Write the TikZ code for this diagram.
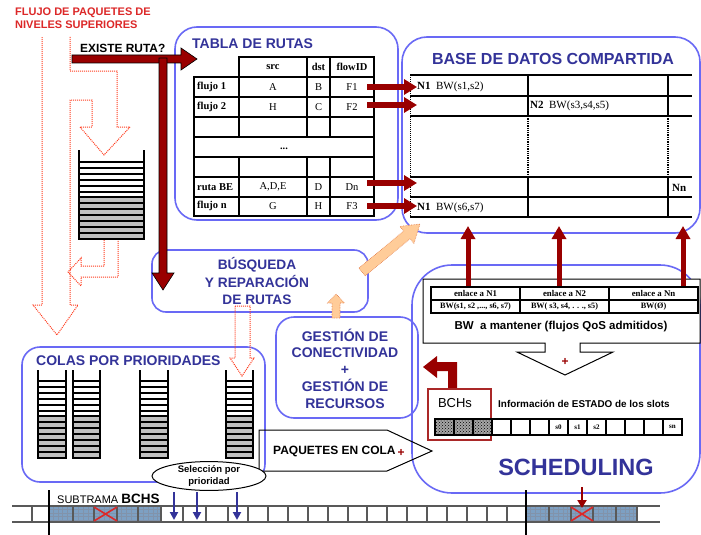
\documentclass[tikz,border=0pt]{standalone}
\usepackage{fontspec}
\setmainfont{Liberation Sans}
\newfontfamily\tms{Liberation Serif}
\usetikzlibrary{arrows.meta,patterns,shapes.geometric}
\definecolor{dred}{RGB}{153,0,0}
\definecolor{boxblue}{RGB}{105,105,245}
\definecolor{tblue}{RGB}{51,51,153}
\definecolor{dotred}{RGB}{255,60,30}
\definecolor{peach}{RGB}{255,204,153}
\definecolor{peachdk}{RGB}{225,120,70}
\definecolor{fred}{RGB}{220,40,40}
\definecolor{bchblue}{RGB}{125,160,195}
\definecolor{bchline}{RGB}{45,75,115}
\definecolor{cellgray}{RGB}{192,192,192}
\definecolor{bchsred}{RGB}{170,40,40}
\newcommand\fsz[2]{\fontsize{#1}{#2}\selectfont}
\newcommand\prioqueue[4]{%
  \fill[cellgray] (#1,#4+6*5.9) rectangle (#2,#4+13*5.9);
  \foreach \i in {0,...,13} {\draw[line width=2pt] (#1,#4+\i*5.9) -- (#2,#4+\i*5.9);}
  \draw[line width=1.8pt] (#1,#3) -- (#1,#4+13*5.9+1);
  \draw[line width=1.8pt] (#2,#3) -- (#2,#4+13*5.9+1);
}
\begin{document}
\begin{tikzpicture}[x=1pt,y=-1pt,
  rbox/.style={draw=boxblue,line width=1.6pt},
  ttl/.style={text=tblue,font=\bfseries\fsz{14}{17},inner sep=0pt},
  tl/.style={line width=1.6pt},
  tcell/.style={font=\tms\fsz{10.5}{10.5},inner sep=0pt},
  tbold/.style={font=\tms\bfseries\fsz{10.5}{10.5},inner sep=0pt},
  redarrow/.style={draw=dred,line width=6pt,-{Triangle[length=13pt,width=15pt]}},
  uparrow/.style={draw=dred,line width=5pt,-{Triangle[length=13pt,width=14pt]}},
  dotarrow/.style={draw=dotred,line width=1pt,densely dotted},
  peacharrow/.style={fill=peach,draw=peachdk,line width=0.6pt,densely dotted},
  bigred/.style={fill=dred,draw=black,line width=0.6pt},
  bluedown/.style={draw=tblue,line width=2pt,-{Triangle[length=8pt,width=8pt]}},
  strip/.style={draw=black!65,line width=1.1pt},
  lbl/.style={inner sep=0pt},
]
\useasboundingbox (0,0) rectangle (701,535);
\fill[white] (0,0) rectangle (701,535);

% ---------- top-left texts ----------
\node[lbl,anchor=west,text=fred,font=\bfseries\fsz{11}{13},align=left] (flujo) at (15,18.5) {FLUJO DE PAQUETES DE\\NIVELES SUPERIORES};
\node[lbl,anchor=west,font=\bfseries\fsz{11.9}{13}] (existe) at (80,48) {EXISTE RUTA?};

% ---------- dotted open arrows (left) ----------
\draw[dotarrow] (70,37) -- (70,71) -- (117,71) -- (117,127) -- (130,127) -- (104,155) -- (80,127) -- (92,127) -- (92,100) -- (70,100) -- (70,305) -- (78,305) -- (57,335) -- (33,305) -- (42,305) -- (42,37);
\draw[dotarrow] (104,238) -- (104,266) -- (81,266) -- (81,258) -- (68,272) -- (81,286) -- (81,277) -- (118,277) -- (118,238);

% top-left queue
\prioqueue{79}{144}{150}{162}

% ---------- boxes ----------
\draw[rbox,rounded corners=22pt] (175,27) rectangle (398,220);
\draw[rbox,rounded corners=25pt] (402,37) rectangle (700,233);
\draw[rbox,rounded corners=40pt] (412,265) rectangle (700,493);
\draw[rbox,rounded corners=18pt] (276,317) rectangle (418,418);
\draw[rbox,rounded corners=14pt] (152,250) rectangle (368,312);
\draw[rbox,rounded corners=18pt] (22,347) rectangle (265,482);

% ---------- TABLA DE RUTAS ----------
\node[ttl,anchor=west] (tabtitle) at (192,44) {TABLA DE RUTAS};
\draw[tl] (239,57) rectangle (374,77);
\draw[tl] (307,57) -- (307,77) (330,57) -- (330,77);
\draw[tl] (194,77) rectangle (374,216);
\foreach \y in {97,117,137,157,177,197} \draw[tl] (194,\y) -- (374,\y);
\foreach \x in {239,307,330} {\draw[tl] (\x,77) -- (\x,137); \draw[tl] (\x,157) -- (\x,216);}
\node[tbold] (hsrc) at (273,67) {src};
\node[tbold] (hdst) at (318.5,67) {dst};
\node[tbold] (hflow) at (352,67) {flowID};
\node[tbold,anchor=west] (r1) at (197,87) {flujo 1};
\node[tbold,anchor=west] (r2) at (197,107) {flujo 2};
\node[tbold,anchor=west] (r3) at (197,187) {ruta BE};
\node[tbold,anchor=west] (r4) at (197,206) {flujo n};
\node[tcell] (s1) at (273,87) {A};
\node[tcell] (s2) at (273,107) {H};
\node[tcell] (s3) at (273,187) {A,D,E};
\node[tcell] (s4) at (273,206) {G};
\node[tcell] (d1) at (318.5,87) {B};
\node[tcell] (d2) at (318.5,107) {C};
\node[tcell] (d3) at (318.5,187) {D};
\node[tcell] (d4) at (318.5,206) {H};
\node[tcell] (f1) at (352,87) {F1};
\node[tcell] (f2) at (352,107) {F2};
\node[tcell] (f3) at (352,187) {Dn};
\node[tcell] (f4) at (352,206) {F3};
\node[tbold] (tdots) at (284,149) {...};

% ---------- BASE DE DATOS ----------
\node[ttl,font=\bfseries\fsz{16}{18}] (basetitle) at (553,59) {BASE DE DATOS COMPARTIDA};
\foreach \y in {75,96,116,177,197,217} \draw[tl] (410,\y) -- (692,\y);
\foreach \x in {528,668} {\draw[tl] (\x,75) -- (\x,116); \draw[tl] (\x,177) -- (\x,217); \draw[line width=1.3pt,densely dotted] (\x,116) -- (\x,177);}
\draw[line width=1pt,densely dotted] (410,75) -- (410,217);
\node[lbl,anchor=west,font=\tms\fsz{11}{11}] (bn1) at (417,87) {\textbf{N1}\ \ BW(s1,s2)};
\node[lbl,anchor=west,font=\tms\fsz{11}{11}] (bn2) at (530,106) {\textbf{N2}\ \ BW(s3,s4,s5)};
\node[lbl,anchor=west,font=\tms\fsz{11}{11}] (bnn) at (672,188) {\textbf{Nn}};
\node[lbl,anchor=west,font=\tms\fsz{11}{11}] (bn3) at (417,208) {\textbf{N1}\ \ BW(s6,s7)};

% arrows table -> base
\coordinate (a1) at (367,87);  \coordinate (t1) at (417,87);
\coordinate (a2) at (367,105); \coordinate (t2) at (417,105);
\coordinate (a3) at (367,183); \coordinate (t3) at (417,183);
\coordinate (a4) at (367,206); \coordinate (t4) at (417,206);
\foreach \k in {1,2,3,4} \draw[redarrow] (a\k) -- (t\k);

% ---------- big dark red arrows ----------
\filldraw[bigred] (72,55) -- (181,55) -- (181,48) -- (197,59) -- (181,70) -- (181,63) -- (72,63) -- cycle;
\filldraw[bigred] (159,58) -- (167,58) -- (167,273) -- (174,273) -- (163,290) -- (152,273) -- (159,273) -- cycle;

% ---------- BUSQUEDA ----------
\node[ttl,align=center,font=\bfseries\fsz{13.7}{17.5}] (busq) at (257,281) {BÚSQUEDA\\Y REPARACIÓN\\DE RUTAS};

% ---------- GESTION ----------
\node[ttl,align=center,font=\bfseries\fsz{14}{16.8}] (gest) at (345,368.5) {GESTIÓN DE\\CONECTIVIDAD\\+\\GESTIÓN DE\\RECURSOS};

% peach arrows
\filldraw[peacharrow] (365.2,275.9) -- (410.1,238.7) -- (413.9,243.3) -- (420,224) -- (399.9,226.4) -- (403.7,231.0) -- (358.8,268.2) -- cycle;
\filldraw[peacharrow] (332,318) -- (332,303) -- (327.5,303) -- (336,294) -- (344.5,303) -- (340,303) -- (340,318) -- cycle;

% dotted arrow busqueda -> queue
\draw[dotarrow] (235,306) -- (250,306) -- (250,358) -- (254,358) -- (242,376) -- (230,358) -- (235,358) -- cycle;

% ---------- COLAS ----------
\node[ttl,anchor=west] (colas) at (36,361) {COLAS POR PRIORIDADES};
\prioqueue{38}{66}{370}{381}
\prioqueue{73}{100}{370}{381}
\prioqueue{140}{168}{370}{381}
\prioqueue{226}{253}{370}{381}

% ---------- SCHEDULING ----------
\filldraw[fill=white,draw=black,line width=1pt] (423,279) -- (700,279) -- (700,343) -- (580,343) -- (580,352) -- (613,352) -- (565,375) -- (517,352) -- (545,352) -- (545,343) -- (423,343) -- cycle;
\draw[line width=1.2pt] (431,287) rectangle (698,313);
\draw[line width=1.2pt] (431,300) -- (698,300) (520,287) -- (520,313) (609,287) -- (609,313);
\node[tbold,font=\tms\bfseries\fsz{8.8}{9}] (e1) at (475.5,293.5) {enlace a N1};
\node[tbold,font=\tms\bfseries\fsz{8.8}{9}] (e2) at (564.5,293.5) {enlace a N2};
\node[tbold,font=\tms\bfseries\fsz{8.8}{9}] (e3) at (653.5,293.5) {enlace a Nn};
\node[tbold,font=\tms\bfseries\fsz{8.2}{9}] (w1) at (475.5,306.5) {BW(s1, s2 ,..., s6, s7)};
\node[tbold,font=\tms\bfseries\fsz{8.2}{9}] (w2) at (564.5,306.5) {BW( s3, s4, . . ., s5)};
\node[tbold,font=\tms\bfseries\fsz{8.2}{9}] (w3) at (653.5,306.5) {BW(Ø)};
\node[lbl,font=\bfseries\fsz{11.5}{12}] (bwm) at (561,327) {BW\ \ a mantener (flujos QoS admitidos)};
\node[lbl,text=dred,font=\bfseries\fsz{12}{12}] (plus1) at (565,362) {+};

\coordinate (u1a) at (468,286); \coordinate (u1b) at (468,226);
\coordinate (u2a) at (559,286); \coordinate (u2b) at (559,226);
\coordinate (u3a) at (683,286); \coordinate (u3b) at (683,226);
\foreach \k in {1,2,3} \draw[uparrow] (u\k a) -- (u\k b);

% bent arrow
\fill[dred] (448,388) -- (457,388) -- (457,362) -- (437,362) -- (437,356) -- (423,367) -- (437,378) -- (437,371) -- (448,371) -- cycle;

% BCHs box and slots
\draw[draw=bchsred,line width=1.2pt] (428,389) rectangle (491,440);
\node[lbl,font=\fsz{13}{13}] (bchs) at (455,403) {BCHs};
\node[lbl,anchor=west,font=\bfseries\fsz{9.9}{10}] (info) at (498,404) {Información de ESTADO de los slots};
\fill[black!35] (435,419) rectangle (492,435);
\fill[pattern=crosshatch dots,pattern color=black] (435,419) rectangle (492,435);
\draw[line width=1.2pt] (435,419) rectangle (682,435);
\foreach \k in {1,...,12} \draw[line width=1.2pt] (435+19*\k,419) -- (435+19*\k,435);
\node[tbold,font=\tms\bfseries\fsz{7}{7}] (sl0) at (558.5,427) {s0};
\node[tbold,font=\tms\bfseries\fsz{7}{7}] (sl1) at (577.5,427) {s1};
\node[tbold,font=\tms\bfseries\fsz{7}{7}] (sl2) at (596.5,427) {s2};
\node[tbold,font=\tms\bfseries\fsz{7}{7}] (sln) at (672.5,427) {sn};
\node[lbl,text=tblue,font=\bfseries\fsz{23.5}{24}] (sched) at (576,467) {SCHEDULING};

% ---------- PAQUETES EN COLA ----------
\draw[line width=1pt] (259,430) -- (387,430) -- (432,451) -- (387,471) -- (259,471) -- cycle;
\node[lbl,anchor=west,font=\bfseries\fsz{12}{12}] (paq) at (273,451) {PAQUETES EN COLA};
\node[lbl,text=dred,font=\bfseries\fsz{12}{12}] (plus2) at (401,453) {+};

% ---------- Seleccion ----------
\node[ellipse,draw,fill=white,line width=1pt,minimum width=114pt,minimum height=27pt,inner sep=0pt,align=center,font=\bfseries\fsz{9.5}{11.5}] (sel) at (209,476) {Selección por\\prioridad};

% ---------- bottom strip ----------
\fill[bchblue] (49,506) rectangle (161,522);
\fill[bchblue] (526,506) rectangle (637,522);
\foreach \y in {509.5,513,516.5,520} {\draw[bchline!60,line width=0.5pt] (49,\y) -- (161,\y); \draw[bchline!60,line width=0.5pt] (526,\y) -- (637,\y);}
\foreach \x in {53.5,58,62.5,67,78,83,88,99,104,109,121,126,131,143,148,153,157} \draw[bchline!60,line width=0.5pt] (\x,506) -- (\x,522);
\foreach \x in {530.5,535,540,545,553.5,558,563,567,575.5,580,585,589,598,603,607,611,620,625,629,633} \draw[bchline!60,line width=0.5pt] (\x,506) -- (\x,522);
\draw[strip] (12,506) -- (660,506);
\draw[strip] (12,522) -- (660,522);
\foreach \x in {32,73,94,117,138,161,183,206,228,248,268,288,308,328,348,367,387,407,427,447,467,487,507,549,571,593,616,637} \draw[strip] (\x,506) -- (\x,522);
\draw[line width=2.6pt] (49,490) -- (49,535);
\draw[line width=2.6pt] (526,490) -- (526,535);
\draw[fred,line width=1.6pt] (94,507) -- (117,521) (94,521) -- (117,507);
\draw[fred,line width=1.6pt] (571,507) -- (593,521) (571,521) -- (593,507);
\node[lbl,anchor=west] (subtr) at (57,499) {\fsz{11}{11}SUBTRAMA \fsz{13.5}{14}\bfseries BCHS};

\coordinate (ba1) at (174,492); \coordinate (bb1) at (174,520);
\coordinate (ba2) at (197,492); \coordinate (bb2) at (197,520);
\coordinate (ba3) at (237,492); \coordinate (bb3) at (237,520);
\foreach \k in {1,2,3} \draw[bluedown] (ba\k) -- (bb\k);
\coordinate (sa) at (582,487); \coordinate (sb) at (582,508);
\draw[draw=dred,line width=2.5pt,-{Triangle[length=8pt,width=9pt]}] (sa) -- (sb);
\end{tikzpicture}
\end{document}
